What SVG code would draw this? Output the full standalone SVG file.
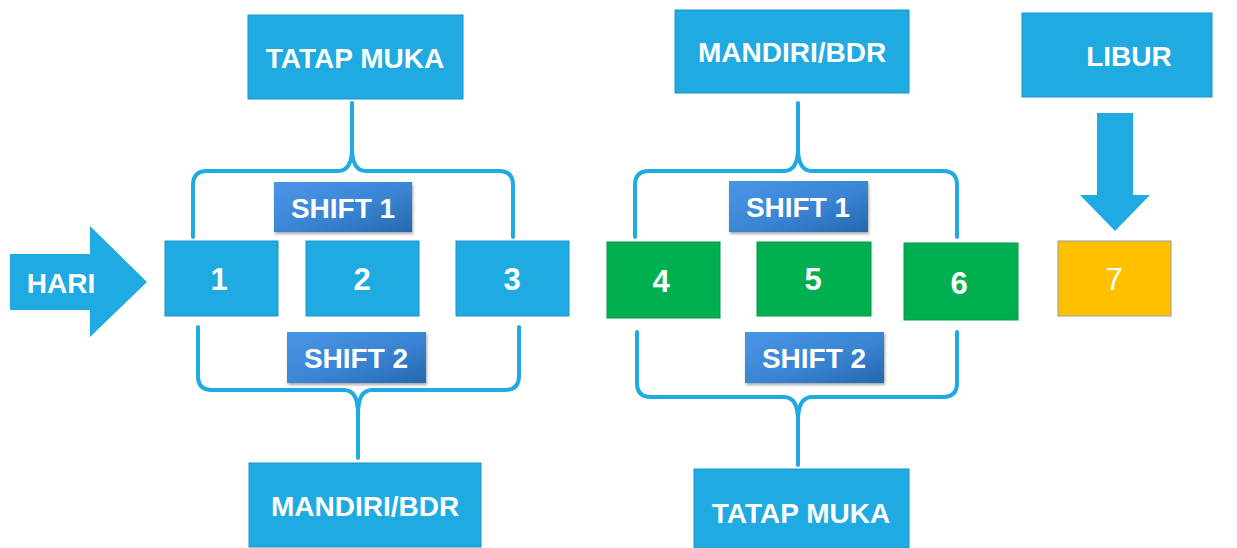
<svg xmlns="http://www.w3.org/2000/svg" width="1237" height="548" viewBox="0 0 1237 548">
<defs>
<linearGradient id="shiftGrad" x1="0" y1="0" x2="1" y2="1">
<stop offset="0" stop-color="#4C95E6"/>
<stop offset="0.55" stop-color="#3A84D4"/>
<stop offset="1" stop-color="#2468AD"/>
</linearGradient>
<filter id="shadow" x="-10%" y="-10%" width="125%" height="135%">
<feDropShadow dx="1" dy="2" stdDeviation="1.5" flood-color="#000" flood-opacity="0.35"/>
</filter>
<style>
.blue{fill:#1FAAE1;stroke:#1A93C6;stroke-width:1}
.green{fill:#00B050;stroke:#009A45;stroke-width:1}
.yellow{fill:#FFC000;stroke:#9A9A9A;stroke-width:1}
.shift{fill:url(#shiftGrad);filter:url(#shadow)}
.t{font-family:"Liberation Sans",Arial,sans-serif;font-weight:bold;fill:#fff;text-anchor:middle}
.big{font-size:28px}
.num{font-size:31px}
.brace{fill:none;stroke:#1FAAE1;stroke-width:4;stroke-linecap:round;stroke-linejoin:round}
.arrow{fill:#1FAAE1}
</style>
</defs>
<rect width="1237" height="548" fill="#fff"/>

<g id="connectors">
<path class="brace" d="M193 237 L193 185 Q193 171 207 171 L338 171 Q352 171 352 148 L352 103 M352 148 Q352 171 366 171 L499 171 Q513 171 513 185 L513 237"/>
<path class="brace" d="M198 327 L198 376 Q198 390 212 390 L344 390 Q358 390 358 414 L358 458 M358 414 Q358 390 372 390 L505 390 Q519 390 519 376 L519 327"/>
<path class="brace" d="M635 237 L635 185 Q635 171 649 171 L784 171 Q798 171 798 148 L798 103 M798 148 Q798 171 812 171 L943 171 Q957 171 957 185 L957 237"/>
<path class="brace" d="M637 332 L637 383 Q637 397 651 397 L784 397 Q798 397 798 421 L798 465 M798 421 Q798 397 812 397 L943 397 Q957 397 957 383 L957 332"/>
<polygon class="arrow" points="1097,113 1133,113 1133,195 1150,195 1115,231 1080,195 1097,195"/>
</g>

<g id="hari">
<polygon class="arrow" points="10,254 90,254 90,226 147,282 90,337 90,310 10,310"/>
<text class="t big" x="61" y="293">HARI</text>
</g>

<g id="tatap-muka-1">
<rect class="blue" x="248" y="15" width="215" height="84"/>
<text class="t big" x="355" y="68">TATAP MUKA</text>
</g>
<g id="mandiri-1">
<rect class="blue" x="249" y="463" width="232" height="84"/>
<text class="t big" x="365" y="516">MANDIRI/BDR</text>
</g>
<g id="mandiri-2">
<rect class="blue" x="675" y="10" width="234" height="83"/>
<text class="t big" x="792" y="62">MANDIRI/BDR</text>
</g>
<g id="tatap-muka-2">
<rect class="blue" x="694" y="469" width="215" height="79"/>
<text class="t big" x="801" y="523">TATAP MUKA</text>
</g>
<g id="libur">
<rect class="blue" x="1022" y="13" width="190" height="84"/>
<text class="t big" x="1129" y="66">LIBUR</text>
</g>

<g id="shift1-a">
<rect class="shift" x="274" y="182" width="138" height="50"/>
<text class="t big" x="343" y="218">SHIFT 1</text>
</g>
<g id="shift2-a">
<rect class="shift" x="287" y="332" width="139" height="51"/>
<text class="t big" x="356" y="368">SHIFT 2</text>
</g>
<g id="shift1-b">
<rect class="shift" x="729" y="181" width="139" height="51"/>
<text class="t big" x="798" y="217">SHIFT 1</text>
</g>
<g id="shift2-b">
<rect class="shift" x="745" y="332" width="139" height="51"/>
<text class="t big" x="814" y="368">SHIFT 2</text>
</g>

<g id="day1">
<rect class="blue" x="165" y="241" width="113" height="75"/>
<text class="t num" x="219" y="290">1</text>
</g>
<g id="day2">
<rect class="blue" x="306" y="241" width="113" height="75"/>
<text class="t num" x="362" y="290">2</text>
</g>
<g id="day3">
<rect class="blue" x="456" y="241" width="113" height="75"/>
<text class="t num" x="512" y="290">3</text>
</g>
<g id="day4">
<rect class="green" x="607" y="242" width="113" height="76"/>
<text class="t num" x="661" y="292">4</text>
</g>
<g id="day5">
<rect class="green" x="757" y="242" width="114" height="74"/>
<text class="t num" x="813" y="290">5</text>
</g>
<g id="day6">
<rect class="green" x="904" y="243" width="114" height="77"/>
<text class="t num" x="959" y="294">6</text>
</g>
<g id="day7">
<rect class="yellow" x="1058" y="241" width="113" height="75"/>
<text class="t num" x="1114" y="290" style="font-weight:normal">7</text>
</g>
</svg>
